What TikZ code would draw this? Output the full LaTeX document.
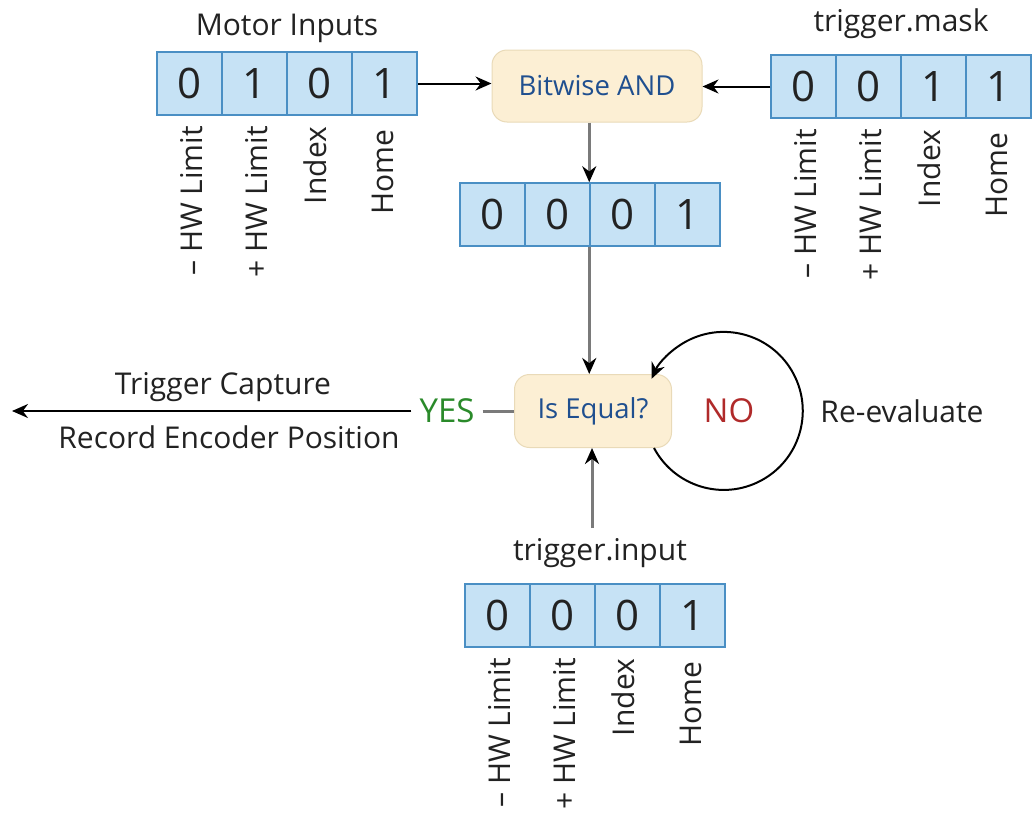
\documentclass[tikz,border=0pt]{standalone}
\usepackage{fontspec}
\setmainfont{Open Sans}
\usetikzlibrary{arrows.meta,calc}
\definecolor{cellfill}{HTML}{C6E2F5}
\definecolor{celldraw}{HTML}{4A8FC4}
\definecolor{decfill}{HTML}{FCEFD4}
\definecolor{decdraw}{HTML}{E9DAB8}
\definecolor{dectext}{HTML}{1F4F8F}
\definecolor{txt}{HTML}{222222}
\definecolor{yesgreen}{HTML}{2A8A2A}
\definecolor{nored}{HTML}{B02A2A}
\definecolor{conngray}{HTML}{7A7A7A}
\newcommand\bitrow[7]{%
  \node[cell] (#1-1) at ({#2+32.5},{#3+31.5}) {#4};
  \node[cell] (#1-2) at ({#2+97.5},{#3+31.5}) {#5};
  \node[cell] (#1-3) at ({#2+162.5},{#3+31.5}) {#6};
  \node[cell] (#1-4) at ({#2+227.5},{#3+31.5}) {#7};
}
\newcommand\bitlabels[1]{%
  \node[vlbl] (#1-l1) at ($(#1-1.south)+(2,10)$) {– HW Limit};
  \node[vlbl] (#1-l2) at ($(#1-2.south)+(2,10)$) {+ HW Limit};
  \node[vlbl] (#1-l3) at ($(#1-3.south)+(-4,11)$) {Index};
  \node[vlbl] (#1-l4) at ($(#1-4.south)+(-2,14)$) {Home};
}
\begin{document}
\begin{tikzpicture}[x=1pt,y=-1pt,
  cell/.style={draw=celldraw, fill=cellfill, line width=1.5pt, minimum width=65pt, minimum height=63pt, inner sep=0pt, font=\fontsize{42}{50}\selectfont, text=txt},
  lbl/.style={font=\fontsize{30}{36}\selectfont, text=txt, inner sep=0pt},
  vlbl/.style={lbl, rotate=90, anchor=east},
  decision/.style={draw=decdraw, fill=decfill, rounded corners=15pt, line width=1pt, text=dectext, font=\fontsize{27.5}{33}\selectfont},
  blk/.style={draw=black, line width=2pt, -{Stealth[length=16pt,width=14pt]}},
  gry/.style={draw=conngray, line width=3pt, -{Stealth[length=16pt,width=14pt,color=black]}},
  big/.style={font=\fontsize{33}{40}\selectfont, inner sep=8pt},
]
\useasboundingbox (0,0) rectangle (1032,819);

\bitrow{motor}{157}{52}{0}{1}{0}{1}
\bitlabels{motor}
\bitrow{mask}{771}{55}{0}{0}{1}{1}
\bitlabels{mask}
\bitrow{res}{460}{183}{0}{0}{0}{1}
\bitrow{tin}{465}{584}{0}{0}{0}{1}
\bitlabels{tin}

\node[lbl] (mtitle) at (287,28) {Motor Inputs};
\node[lbl] (ktitle) at (901,24) {trigger.mask};
\node[lbl] (ititle) at (600,553) {trigger.input};

\node[decision, minimum width=210pt, minimum height=72pt] (and) at (597,86) {Bitwise AND};
\node[decision, minimum width=157pt, minimum height=73pt] (eq) at (593,411) {Is Equal?};

\node[big, text=yesgreen] (yes) at (447,411) {YES};
\node[big, text=nored] (no) at (729,411) {NO};
\node[lbl] (re) at (902,411) {Re-evaluate};
\node[lbl] (tc) at (223,387) {Trigger Capture};
\node[lbl] (rep) at (229,437) {Record Encoder Position};
\coordinate (out) at (12,411);
\coordinate (tinstart) at (592,528);

\draw[blk] (motor-4.east) -- (motor-4.east -| and.west);
\draw[blk] (mask-1.west) -- (mask-1.west -| and.east);
\draw[gry] (and.south -| res-3.west) -- (res-3.north west);
\draw[gry] (res-3.south west) -- (res-3.south west |- eq.north);
\draw[gry] (tinstart) -- (tinstart |- eq.south);
\draw[conngray, line width=3pt] (yes.east) -- (eq.west);
\draw[blk] (yes.west) -- (out);
\draw[blk] ($(eq.south east)+(-18,0)$) arc[start angle=152, end angle=-156, radius=79];
\end{tikzpicture}
\end{document}
